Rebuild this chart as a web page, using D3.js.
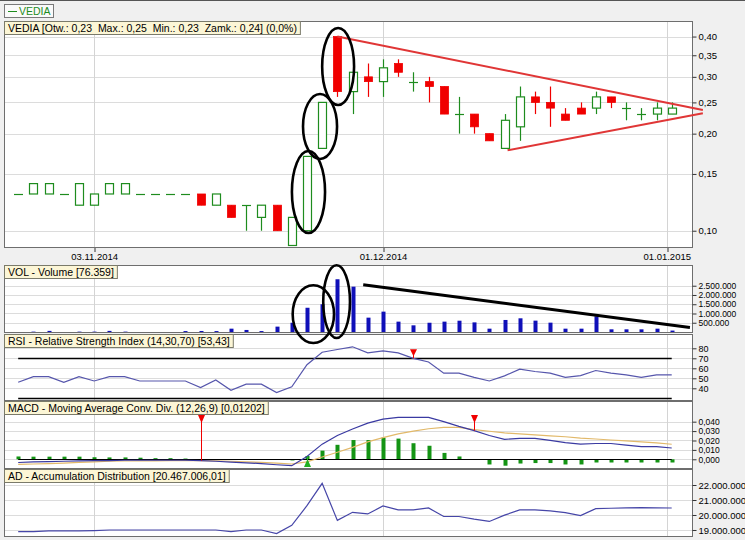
<!DOCTYPE html>
<html><head><meta charset="utf-8">
<script src="https://cdn.jsdelivr.net/npm/d3@7"></script>
<style>
html,body{margin:0;padding:0;background:#f0f0f0;}
svg{display:block;font-family:"Liberation Sans",Arial,sans-serif;}
</style></head><body>
<svg id="c" width="745" height="540"></svg>
<script>
// ---------- DATA ----------
const dates = ["27.10.2014","28.10.2014","29.10.2014","30.10.2014","31.10.2014",
 "03.11.2014","04.11.2014","05.11.2014","06.11.2014","07.11.2014","10.11.2014","12.11.2014","13.11.2014","14.11.2014",
 "17.11.2014","18.11.2014","19.11.2014","20.11.2014","21.11.2014","24.11.2014","25.11.2014","26.11.2014","27.11.2014","28.11.2014",
 "01.12.2014","02.12.2014","03.12.2014","04.12.2014","05.12.2014","08.12.2014","09.12.2014","10.12.2014","11.12.2014","12.12.2014",
 "15.12.2014","16.12.2014","17.12.2014","18.12.2014","19.12.2014","22.12.2014","23.12.2014","29.12.2014","30.12.2014","02.01.2015"];
const open  = [0.13,0.13,0.13,0.13,0.12,0.12,0.13,0.13,0.13,0.13, 0.13,0.13,0.13,0.12,0.12,0.12,0.11,0.12,0.09,0.10,
               0.18,0.40,0.27,0.30,0.29,0.33,0.29,0.29,0.28,0.23, 0.23,0.20,0.18,0.21,0.26,0.25,0.23,0.24,0.24,0.26, 0.24,0.23,0.23,0.23];
const high  = [0.13,0.14,0.14,0.13,0.14,0.13,0.14,0.14,0.13,0.13, 0.13,0.13,0.13,0.13,0.12,0.12,0.12,0.12,0.11,0.17,
               0.25,0.40,0.31,0.33,0.34,0.34,0.31,0.30,0.28,0.26, 0.23,0.20,0.23,0.28,0.27,0.28,0.24,0.25,0.27,0.26, 0.25,0.24,0.25,0.25];
const low   = [0.13,0.13,0.13,0.13,0.12,0.12,0.13,0.13,0.13,0.13, 0.13,0.13,0.12,0.12,0.11,0.10,0.10,0.10,0.09,0.10,
               0.18,0.26,0.23,0.26,0.26,0.30,0.27,0.25,0.23,0.20, 0.20,0.19,0.18,0.19,0.23,0.21,0.22,0.23,0.23,0.24, 0.22,0.22,0.22,0.23];
const close = [0.13,0.14,0.14,0.13,0.14,0.13,0.14,0.14,0.13,0.13, 0.13,0.13,0.12,0.13,0.11,0.12,0.12,0.10,0.11,0.17,
               0.25,0.27,0.31,0.29,0.32,0.31,0.29,0.28,0.23,0.23, 0.21,0.19,0.22,0.26,0.25,0.24,0.22,0.23,0.26,0.25, 0.24,0.23,0.24,0.24];
const volume = [0,20000,60000,0,20000,20000,60000,20000,0,0, 0,50000,55000,50000,180000,110000,50000,290000,500000,1310000,
               1500000,2850000,2450000,775000,1100000,560000,360000,500000,560000,610000, 520000,180000,650000,740000,614000,505000,180000,180000,850000,145000,
               145000,145000,180000,76359];
const rsi = [46,51.7,51.7,46,51.7,47.3,51.7,51.7,47.3,47.3, 47.3,47.3,40.8,48.3,38.1,44.2,44.2,35.8,41.5,63.6,
             76.1,78.8,81.5,75.4,77.5,75.4,70,66.3,55.1,55.1, 51,47.3,52.4,59.2,56.8,55.1,51,52.7,57.8,55.1, 53.4,51,53.4,53.43];
const macd = [-0.0034,-0.0027,-0.0024,-0.0021,-0.0017,-0.0014,-0.0014,-0.0010,-0.0010,-0.0010, -0.0010,-0.0010,-0.0014,-0.0021,-0.0031,-0.0038,-0.0045,-0.0058,-0.0068,0.0030,
              0.0161,0.0253,0.0322,0.0384,0.0428,0.0445,0.0445,0.0445,0.0400,0.0350, 0.0305,0.0253,0.0212,0.0223,0.0223,0.0202,0.0178,0.0161,0.0168,0.0168, 0.0151,0.0134,0.0134,0.01202];
const signal = [-0.0055,-0.0050,-0.0045,-0.0040,-0.0033,-0.0027,-0.0021,-0.0018,-0.0017,-0.0016, -0.0015,-0.0014,-0.0014,-0.0017,-0.0021,-0.0027,-0.0032,-0.0040,-0.0050,-0.0027,
              0.0024,0.0075,0.0127,0.0185,0.0230,0.0270,0.0300,0.0325,0.0340,0.0340, 0.0315,0.0298,0.0280,0.0270,0.0260,0.0250,0.0240,0.0226,0.0216,0.0205, 0.0195,0.0185,0.0175,0.0160];
const hist = [0.0030,0.0028,0.0028,0.0028,0.0028,0.0022,0.0020,0.0020,0.0017,0.0012, 0.0012,0.0008,0,0,0,0,0,-0.0003,-0.0012,0.0035,
              0.0092,0.0154,0.0205,0.0205,0.0230,0.0220,0.0171,0.0144,0.0068,0.0030, -0.0007,-0.0055,-0.0068,-0.0045,-0.0040,-0.0040,-0.0055,-0.0055,-0.0034,-0.0034, -0.0034,-0.0034,-0.0034,-0.0034];
const ad = [18890000,18890000,18940000,18940000,18940000,18960000,19000000,19000000,19000000,19000000, 19000000,19000000,19000000,19000000,18890000,19000000,19000000,18760000,19310000,20620000,
            22110000,19640000,20180000,20070000,20600000,20340000,20340000,20470000,19900000,19900000, 19720000,19570000,19990000,20340000,20340000,20270000,20160000,19960000,20420000,20450000,
            20470000,20490000,20480000,20467006.01];

const priceTicks = [0.10,0.15,0.20,0.25,0.30,0.35,0.40];
const volTicks = [500000,1000000,1500000,2000000,2500000];
const rsiTicks = [40,50,60,70,80];
const rsiLevels = [30,70];
const macdTicks = [0,0.01,0.02,0.03,0.04];
const adTicks = [19000000,20000000,21000000,22000000];
const dateTicks = ["03.11.2014","01.12.2014","01.01.2015"];
const dateTickPos = [5,24,42.67];

// annotations (data units: session index, value)
const triUpper = [[21,0.40],[45.05,0.2368]];
const triLower = [[32.2,0.1776],[45.05,0.2312]];
const volTrend = [[22.7,2557000],[44.2,243000]];
const priceEllipses = [{i:19.1,lo:0.0984,hi:0.1767,w:1.09},{i:19.86,lo:0.1669,hi:0.2655,w:1.12},{i:21.05,lo:0.2454,hi:0.4254,w:1.05}];
const volEllipses = [{i:19.42,lo:-595000,hi:2524000,w:1.36},{i:20.95,lo:-324000,hi:3605000,w:0.88}];
const rsiSell = [26];
const macdSell = [12,30];
const macdBuy = [19];

// ---------- SETUP ----------
const svg = d3.select("#c");
const L = 4, R = 693;
const P = {main:{top:21,bottom:248}, vol:{top:265,bottom:333}, rsi:{top:334,bottom:401}, macd:{top:401,bottom:469}, ad:{top:469,bottom:537}};
const x = d3.scaleLinear().domain([-0.934,44.4]).range([L,R]);
const yP = d3.scaleLog().domain([0.0884,0.447]).range([P.main.bottom,P.main.top]);
const yV = d3.scaleLinear().domain([-54000,3620000]).range([P.vol.bottom,P.vol.top]);
const yR = d3.scaleLinear().domain([27.3,94.3]).range([P.rsi.bottom,P.rsi.top]);
const yM = d3.scaleLinear().domain([-0.01032,0.0620]).range([P.macd.bottom,P.macd.top]);
const yA = d3.scaleLinear().domain([18533000,23067000]).range([P.ad.bottom,P.ad.top]);
const loc = d3.formatLocale({decimal:",",thousands:".",grouping:[3],currency:["",""]});

const GREEN="#1e8c1e", RED="#f00000", BLUE="#1010b8";
const idx = d3.range(dates.length);
const px = i => Math.round(x(i));

svg.append("line").attr("x1",0).attr("x2",745).attr("y1",0.5).attr("y2",0.5).attr("stroke","#555");

function panel(key, yS, ticks){
  const p = P[key];
  svg.append("rect").attr("x",L).attr("y",p.top).attr("width",R-L).attr("height",p.bottom-p.top).attr("fill","#fff");
  svg.append("g").selectAll("line").data(ticks).join("line")
    .attr("x1",L).attr("x2",R).attr("y1",d=>Math.round(yS(d))+0.5).attr("y2",d=>Math.round(yS(d))+0.5)
    .attr("stroke","#dcdcdc");
  svg.append("g").selectAll("line").data(dateTickPos).join("line")
    .attr("x1",d=>px(d)+0.5).attr("x2",d=>px(d)+0.5).attr("y1",p.top).attr("y2",p.bottom)
    .attr("stroke","#d4d4d4");
  svg.append("clipPath").attr("id","cl-"+key).append("rect")
    .attr("x",L).attr("y",p.top).attr("width",R-L).attr("height",p.bottom-p.top);
  return svg.append("g").attr("clip-path",`url(#cl-${key})`);
}
function frame(key, yS, ticks, fmt, fs){
  const p = P[key];
  svg.append("rect").attr("x",L+0.5).attr("y",p.top+0.5).attr("width",R-L-1).attr("height",p.bottom-p.top-1)
    .attr("fill","none").attr("stroke","#6e6e6e");
  const ax = svg.append("g").attr("transform",`translate(${R-0.5},0)`)
    .call(d3.axisRight(yS).tickValues(ticks).tickSize(4).tickPadding(2).tickFormat(fmt));
  ax.select(".domain").remove();
  ax.selectAll("text").attr("font-size",fs||"9.5px").attr("fill","#000").attr("font-family","Liberation Sans, Arial, sans-serif");
  ax.selectAll("line").attr("stroke","#333");
}
function titleBox(key, txt){
  const p = P[key];
  const g = svg.append("g");
  const r = g.append("rect").attr("x",L+0.5).attr("y",p.top+0.5).attr("height",13).attr("fill","#fcf6d6").attr("stroke","#7a7a6a");
  const t = g.append("text").attr("x",L+4).attr("y",p.top+10.5).attr("font-size","10.5px").attr("fill","#000")
    .style("white-space","pre").attr("xml:space","preserve").text(txt);
  r.attr("width",t.node().getComputedTextLength()+7);
}

// ---------- MAIN ----------
const gm = panel("main", yP, priceTicks);
const candles = gm.selectAll("g.c").data(idx).join("g");
candles.append("line")
  .attr("x1",i=>px(i)+0.5).attr("x2",i=>px(i)+0.5)
  .attr("y1",i=>yP(high[i])).attr("y2",i=>yP(low[i]))
  .attr("stroke",i=>close[i]<open[i]?RED:GREEN).attr("stroke-width",1.2);
candles.filter(i=>close[i]>open[i]).append("rect")
  .attr("x",i=>px(i)-3.5).attr("width",8)
  .attr("y",i=>yP(close[i])).attr("height",i=>yP(open[i])-yP(close[i]))
  .attr("fill","#fff").attr("stroke",GREEN).attr("stroke-width",1.2);
candles.filter(i=>close[i]<open[i]).append("rect")
  .attr("x",i=>px(i)-3.5).attr("width",8)
  .attr("y",i=>yP(open[i])).attr("height",i=>yP(close[i])-yP(open[i]))
  .attr("fill",RED).attr("stroke",RED).attr("stroke-width",0.8);
candles.filter(i=>close[i]===open[i]).append("line")
  .attr("x1",i=>px(i)-4).attr("x2",i=>px(i)+5)
  .attr("y1",i=>Math.round(yP(close[i]))+0.5).attr("y2",i=>Math.round(yP(close[i]))+0.5)
  .attr("stroke",GREEN).attr("stroke-width",1.2);
frame("main", yP, priceTicks, loc.format(".2f"));

// date axis
const dax = svg.append("g").attr("transform",`translate(0,${P.main.bottom})`)
  .call(d3.axisBottom(x).tickValues(dateTickPos).tickSize(4).tickPadding(1).tickFormat((d,i)=>dateTicks[i]));
dax.select(".domain").remove();
dax.selectAll("line").attr("stroke","#333").attr("transform",d=>`translate(${px(d)+0.5-x(d)},0)`);
dax.selectAll("text").attr("font-size","9.5px").attr("fill","#000").attr("font-family","Liberation Sans, Arial, sans-serif");

// ---------- VOLUME ----------
const gv = panel("vol", yV, volTicks);
gv.selectAll("rect").data(idx).join("rect")
  .attr("x",i=>px(i)-1.5).attr("width",4)
  .attr("y",i=>yV(volume[i])).attr("height",i=>yV(0)-yV(volume[i]))
  .attr("fill",BLUE);
frame("vol", yV, volTicks, loc.format(",.0f"), "8.5px");

// ---------- RSI ----------
const gr = panel("rsi", yR, rsiTicks);
gr.selectAll("line.lv").data(rsiLevels).join("line")
  .attr("x1",x(0)).attr("x2",x(43)).attr("y1",d=>Math.round(yR(d))+0.5).attr("y2",d=>Math.round(yR(d))+0.5)
  .attr("stroke","#000").attr("stroke-width",1.3);
gr.append("path").datum(idx)
  .attr("d",d3.line().x(i=>x(i)).y(i=>yR(rsi[i])))
  .attr("fill","none").attr("stroke","#5656ac").attr("stroke-width",1.2);
rsiSell.forEach(i=>{
  const cx=px(i)+0.5, ty=yR(rsi[i]);
  gr.append("line").attr("x1",cx).attr("x2",cx).attr("y1",ty-8).attr("y2",ty).attr("stroke",RED);
  gr.append("path").attr("d",`M${cx-3.5},${ty-9}L${cx+3.5},${ty-9}L${cx},${ty-2}Z`).attr("fill",RED);
});
frame("rsi", yR, rsiTicks, d3.format("d"), "9px");

// ---------- MACD ----------
const gc = panel("macd", yM, macdTicks);
gc.selectAll("rect").data(idx).join("rect")
  .attr("x",i=>px(i)-1.5).attr("width",4)
  .attr("y",i=>Math.min(yM(0),yM(hist[i]))).attr("height",i=>Math.abs(yM(hist[i])-yM(0)))
  .attr("fill","#149414");
gc.append("line").attr("x1",x(0)).attr("x2",x(43)).attr("y1",Math.round(yM(0))+0.5).attr("y2",Math.round(yM(0))+0.5)
  .attr("stroke","#000").attr("stroke-width",1);
gc.append("path").datum(idx)
  .attr("d",d3.line().x(i=>x(i)).y(i=>yM(signal[i])))
  .attr("fill","none").attr("stroke","#e2b96a").attr("stroke-width",1.2);
gc.append("path").datum(idx)
  .attr("d",d3.line().x(i=>x(i)).y(i=>yM(macd[i])))
  .attr("fill","none").attr("stroke","#3a3aa2").attr("stroke-width",1.2);
macdSell.forEach(i=>{
  const cx=px(i)+0.5, top=P.macd.top+14;
  gc.append("line").attr("x1",cx).attr("x2",cx).attr("y1",top+6).attr("y2",yM(macd[i])).attr("stroke",RED);
  gc.append("path").attr("d",`M${cx-3.5},${top}L${cx+3.5},${top}L${cx},${top+8}Z`).attr("fill",RED);
});
macdBuy.forEach(i=>{
  const cx=px(i)+0.5, bot=P.macd.bottom-2;
  gc.append("line").attr("x1",cx).attr("x2",cx).attr("y1",bot-6).attr("y2",yM(macd[i])).attr("stroke","#22b022");
  gc.append("path").attr("d",`M${cx-3.5},${bot}L${cx+3.5},${bot}L${cx},${bot-8}Z`).attr("fill","#22b022");
});
frame("macd", yM, macdTicks, loc.format(".3f"), "8.5px");

// ---------- AD ----------
const ga = panel("ad", yA, adTicks);
ga.append("path").datum(idx)
  .attr("d",d3.line().x(i=>x(i)).y(i=>yA(ad[i])))
  .attr("fill","none").attr("stroke","#4646a8").attr("stroke-width",1.2);
frame("ad", yA, adTicks, loc.format(",.0f"));

// ---------- TITLES ----------
const f2 = loc.format(".2f");
const n = dates.length-1;
titleBox("main", `VEDIA [Otw.: ${f2(open[n])}  Max.: ${f2(high[n])}  Min.: ${f2(low[n])}  Zamk.: ${f2(close[n])}] (${loc.format(".1f")((close[n]/close[n-1]-1)*100)}%)`);
titleBox("vol", `VOL - Volume [${loc.format(",.0f")(volume[n])}]`);
titleBox("rsi", `RSI - Relative Strength Index (14,30,70) [${f2(rsi[n])}]`);
titleBox("macd", `MACD - Moving Average Conv. Div. (12,26,9) [${loc.format(".5f")(macd[n])}]`);
titleBox("ad", `AD - Accumulation Distribution [${loc.format(",.2f")(ad[n])}]`);

// legend
const lg = svg.append("g");
lg.append("rect").attr("x",L+0.5).attr("y",4.5).attr("width",49).attr("height",13).attr("fill","#fafafa").attr("stroke","#7a7a7a");
lg.append("line").attr("x1",L+4).attr("x2",L+13).attr("y1",11.5).attr("y2",11.5).attr("stroke",GREEN);
lg.append("text").attr("x",L+15).attr("y",15).attr("font-size","10.5px").attr("fill",GREEN).text("VEDIA");

// ---------- ANNOTATIONS ----------
const lineP = d3.line().x(d=>x(d[0])).y(d=>yP(d[1]));
svg.append("path").attr("d",lineP(triUpper)).attr("fill","none").attr("stroke","#e03636").attr("stroke-width",2);
svg.append("path").attr("d",lineP(triLower)).attr("fill","none").attr("stroke","#e03636").attr("stroke-width",2);
svg.append("path").attr("d",d3.line().x(d=>x(d[0])).y(d=>yV(d[1]))(volTrend)).attr("fill","none").attr("stroke","#000").attr("stroke-width",3);
function ell(arr, yS){
  svg.append("g").selectAll("ellipse").data(arr).join("ellipse")
    .attr("cx",d=>x(d.i)).attr("rx",d=>x(d.i+d.w)-x(d.i))
    .attr("cy",d=>(yS(d.lo)+yS(d.hi))/2).attr("ry",d=>(yS(d.lo)-yS(d.hi))/2)
    .attr("fill","none").attr("stroke","#000").attr("stroke-width",2.6);
}
ell(priceEllipses, yP);
ell(volEllipses, yV);
</script>
</body></html>
